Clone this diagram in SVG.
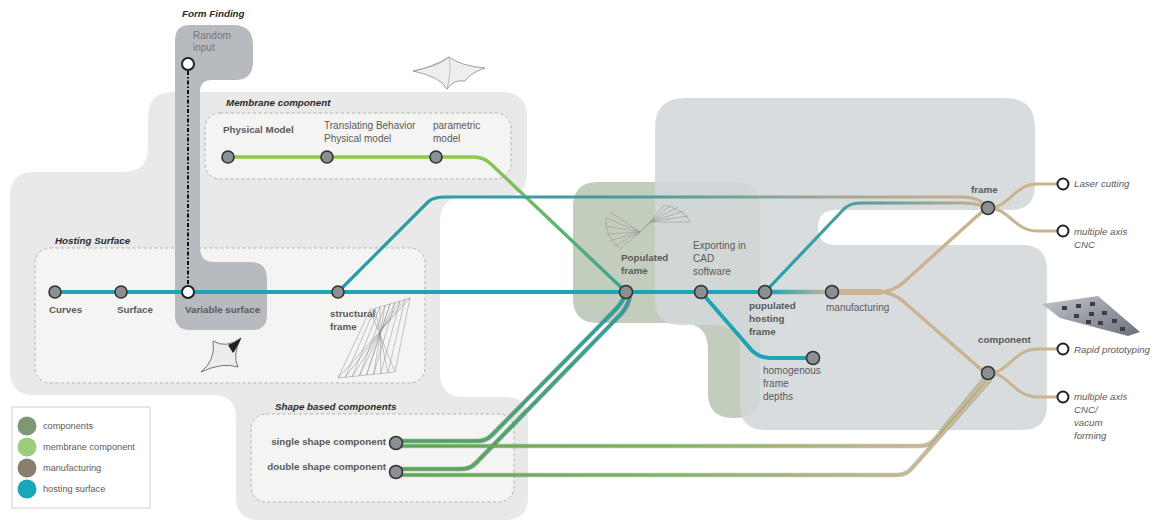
<svg xmlns="http://www.w3.org/2000/svg" width="1158" height="523" viewBox="0 0 1158 523">
<defs>
<style>
text{font-family:"Liberation Sans",Arial,sans-serif;fill:#5a5a5a;font-size:10px}
.b{font-weight:bold;font-size:9.8px}
.h{font-weight:bold;font-style:italic;fill:#2b2b2b;font-size:9.8px}
.i{font-style:italic;font-size:9.7px}
.lg{font-size:9.2px}
.st{fill:#8d9093;stroke:#333;stroke-width:1.6}
.wt{fill:#fff;stroke:#222;stroke-width:2}
.dash{fill:#f4f4f2;stroke:#b2b2b2;stroke-width:1;stroke-dasharray:3 2.5}
.ln{fill:none;stroke-linecap:round;stroke-linejoin:round}
.wire{fill:none;stroke:#8c8c8c;stroke-width:.5}
</style>
<linearGradient id="gMem" gradientUnits="userSpaceOnUse" x1="228" y1="0" x2="626" y2="0">
<stop offset="0" stop-color="#8fc84c"/><stop offset=".62" stop-color="#8fc84c"/><stop offset="1" stop-color="#38a293"/>
</linearGradient>
<linearGradient id="gTop" gradientUnits="userSpaceOnUse" x1="338" y1="0" x2="988" y2="0">
<stop offset="0" stop-color="#1e9fae"/><stop offset=".45" stop-color="#4c9999"/><stop offset=".78" stop-color="#a6a895"/><stop offset="1" stop-color="#c9b18e"/>
</linearGradient>
<linearGradient id="gPH" gradientUnits="userSpaceOnUse" x1="765" y1="0" x2="988" y2="0">
<stop offset="0" stop-color="#1e9fae"/><stop offset=".5" stop-color="#5e9e9a"/><stop offset="1" stop-color="#c9b18e"/>
</linearGradient>
<linearGradient id="gMan" gradientUnits="userSpaceOnUse" x1="770" y1="0" x2="830" y2="0">
<stop offset="0" stop-color="#1ea4b4"/><stop offset="1" stop-color="#c9b390"/>
</linearGradient>
<linearGradient id="gUp" gradientUnits="userSpaceOnUse" x1="0" y1="470" x2="0" y2="292">
<stop offset="0" stop-color="#5aa653"/><stop offset="1" stop-color="#1e9fae"/>
</linearGradient>
<linearGradient id="gRight" gradientUnits="userSpaceOnUse" x1="396" y1="0" x2="988" y2="0">
<stop offset="0" stop-color="#5aa653"/><stop offset=".45" stop-color="#80b460"/><stop offset=".85" stop-color="#c9b390"/><stop offset="1" stop-color="#d0bb98"/>
</linearGradient>
<linearGradient id="gPhoto" x1="0" y1="0" x2="1" y2="1">
<stop offset="0" stop-color="#c4c7cc"/><stop offset=".6" stop-color="#8d9199"/><stop offset="1" stop-color="#6d7179"/>
</linearGradient>
</defs>

<rect width="1158" height="523" fill="#fff"/>

<!-- background zones -->
<g id="zones">
<path d="M173,92 H502 Q527,92 527,117 V172 Q527,197 502,197 H465 Q440,197 440,222 V373 Q440,397 464,397 H505 Q528,397 528,420 V498 Q528,520 505,520 H259 Q236,520 236,497 V418 Q236,395 213,395 H34 Q10,395 10,371 V196 Q10,172 34,172 H123 Q148,172 148,147 V117 Q148,92 173,92 Z" fill="#e8e9e8"/>
<path d="M598,182 H735 Q760,182 760,207 V393 Q760,418 735,418 H733 Q708,418 708,393 V350 Q708,323 681,323 H598 Q573,323 573,298 V207 Q573,182 598,182 Z" fill="#c3cdbd"/>
<path d="M685,98 H1005 Q1035,98 1035,128 V185 Q1035,210 1010,210 H836 Q818,210 818,227.5 Q818,245 836,245 H1022 Q1047,245 1047,270 V405 Q1047,430 1022,430 H765 Q740,430 740,405 V352 Q740,325 713,325 H680 Q655,325 655,300 V128 Q655,98 685,98 Z" fill="#d3d7da" fill-opacity=".88"/>
<rect class="dash" x="205" y="113" width="306" height="66" rx="15"/>
<rect class="dash" x="35" y="248" width="390" height="135" rx="15"/>
<rect class="dash" x="251" y="414" width="263" height="88" rx="15"/>
<path d="M200,25 H233 Q253,25 253,45 V62 Q253,80 235,80 H212 Q200,80 200,92 V248 Q200,262 214,262 H250 Q267,262 267,279 V315 Q267,330 252,330 H190 Q175,330 175,315 V40 Q175,25 190,25 Z" fill="#b7babf"/>
<text class="h" x="182" y="17">Form Finding</text>
<text x="193" y="39" style="fill:#777">Random</text>
<text x="193" y="51" style="fill:#777">input</text>
<text class="h" x="226" y="106">Membrane component</text>
<text class="h" x="55" y="244">Hosting Surface</text>
<text class="h" x="275" y="410">Shape based components</text>
</g>

<!-- small sketches -->
<g id="sketches">
<path d="M413,71 Q433,67 449,57 Q461,66 485,68 Q470,73 465,81 Q454,79 447,89 Q441,77 413,71 Z" fill="#eeeeee" stroke="#7a7a7a" stroke-width=".7"/>
<path d="M449,57 Q452,70 447,89 M449,57 Q440,66 413,71" fill="none" stroke="#9a9a9a" stroke-width=".6"/>
<path d="M201,372 Q216,360 213,341 Q226,349 241,338 Q232,355 238,367 Q222,362 201,372 Z" fill="#ececec" stroke="#555" stroke-width=".8"/>
<path d="M228,345 Q236,342 241,338 Q236,350 233,353 Z" fill="#222"/>
<path class="wire" d="M370,310 L338,378 M375,308.5 L345.1,377.3 M380,307 L352.3,376.5 M385,305.5 L359.4,375.8 M390,304 L366.5,375 M395,302.5 L373.6,374.3 M400,301 L380.8,373.5 M405,299.5 L387.9,372.8 M410,298 L395,372 M370,310 L395,372 M375,308.5 L387.9,372.8 M380,307 L380.8,373.5 M385,305.5 L373.6,374.3 M390,304 L366.5,375 M395,302.5 L359.4,375.8 M400,301 L352.3,376.5 M405,299.5 L345.1,377.3 M410,298 L338,378 M370,310 L410,298 M338,378 L395,372"/>
<path class="wire" d="M640,232 L606,218 M640,232 L605,226 M640,232 L606,234 M640,232 L609,241 M640,232 L614,246 M640,232 L620,249 M640,232 L610,212 M606,218 Q604,235 620,249 M650,222 L690,222 M650,222 L688,216 M650,222 L684,211 M650,222 L678,207 M650,222 L671,205 M650,222 L664,205 M664,205 Q685,210 690,222 M640,232 L650,222 M636,236 L655,218"/>
<path d="M1042,304 L1098,296 L1140,332 L1128,336 L1060,318 Z" fill="url(#gPhoto)"/>
<path d="M1062,306 h5v4h-5z M1076,304 h5v4h-5z M1090,302 h5v4h-5z M1074,314 h5v4h-5z M1089,312 h5v4h-5z M1102,311 h5v4h-5z M1098,321 h5v4h-5z M1112,319 h5v4h-5z M1120,327 h5v4h-5z M1086,320 h5v4h-5z" fill="#3b3e44"/>
</g>

<!-- connectors -->
<g id="connectors">
<path class="ln" d="M396,441 H478 Q486,441 492,435 L617,308 Q624,300 626,292" stroke="#1f5c55" stroke-width="4.6" stroke-opacity=".5"/>
<path class="ln" d="M396,441 H478 Q486,441 492,435 L617,308 Q624,300 626,292" stroke="url(#gUp)" stroke-width="2.8"/>
<path class="ln" d="M396,469 H462 Q470,469 476,463 L622,313 Q630,303 630,293" stroke="#1f5c55" stroke-width="4.6" stroke-opacity=".5"/>
<path class="ln" d="M396,469 H462 Q470,469 476,463 L622,313 Q630,303 630,293" stroke="url(#gUp)" stroke-width="2.8"/>
<path class="ln" d="M396,446 H920 Q930,446 936,438 L985,378 Q987,375 988,373" stroke="#3f6a3a" stroke-width="4.6" stroke-opacity=".35"/>
<path class="ln" d="M396,446 H920 Q930,446 936,438 L985,378 Q987,375 988,373" stroke="url(#gRight)" stroke-width="2.8"/>
<path class="ln" d="M396,475 H897 Q907,475 913,467 L989,381 Q991,377 991,375" stroke="#3f6a3a" stroke-width="4.6" stroke-opacity=".35"/>
<path class="ln" d="M396,475 H897 Q907,475 913,467 L989,381 Q991,377 991,375" stroke="url(#gRight)" stroke-width="2.8"/>
<path class="ln" d="M228,157 H474 Q484,157 491,164 L626,292" stroke="url(#gMem)" stroke-width="3.4"/>
<path class="ln" d="M338,292 L428,202 Q433,197 445,197 H962 Q980,197 988,208" stroke="url(#gTop)" stroke-width="3.2"/>
<path class="ln" d="M765,292 L843,210 Q849,203 860,203 H962 Q978,203 988,208" stroke="url(#gPH)" stroke-width="3.2"/>
<path class="ln" d="M55,292 H770" stroke="#1ea4b4" stroke-width="4"/>
<path class="ln" d="M701,292 L748,346 Q757,358 770,358 H812" stroke="#1ea4b4" stroke-width="4"/>
<path class="ln" d="M768,292 H832" stroke="url(#gMan)" stroke-width="4.5"/>
<path class="ln" d="M832,292 H878 Q893,292 904,282 L976,217 Q982,211 988,208" stroke="#c9b390" stroke-width="3.4"/>
<path class="ln" d="M832,292 H878 Q893,292 904,302 L976,365 Q982,371 988,373" stroke="#c9b390" stroke-width="3.4"/>
<path class="ln" d="M832,292 H880" stroke="#c9b390" stroke-width="6"/>
<path class="ln" d="M988,208 C1010,208 1013,184 1038,184 H1058" stroke="#c9b390" stroke-width="3"/>
<path class="ln" d="M988,208 C1010,208 1013,231 1038,231 H1058" stroke="#c9b390" stroke-width="3"/>
<path class="ln" d="M988,373 C1010,373 1013,349 1038,349 H1058" stroke="#c9b390" stroke-width="3"/>
<path class="ln" d="M988,373 C1010,373 1013,397 1038,397 H1058" stroke="#c9b390" stroke-width="3"/>
<path d="M188,71 V286" fill="none" stroke="#111" stroke-width="2" stroke-dasharray="4 2 1.5 2"/>
</g>

<!-- nodes -->
<g id="random-input"><circle class="wt" cx="188" cy="64" r="6"/></g>
<g id="physical-model"><circle class="st" cx="228" cy="157" r="6"/><text class="b" x="223" y="133">Physical Model</text></g>
<g id="translating-behavior"><circle class="st" cx="327" cy="157" r="6"/><text x="324" y="129">Translating Behavior</text><text x="324" y="142">Physical model</text></g>
<g id="parametric-model"><circle class="st" cx="436" cy="157" r="6"/><text x="433" y="129">parametric</text><text x="433" y="142">model</text></g>
<g id="curves"><circle class="st" cx="55" cy="292" r="6"/><text class="b" x="49" y="313">Curves</text></g>
<g id="surface"><circle class="st" cx="121" cy="292" r="6"/><text class="b" x="117" y="313">Surface</text></g>
<g id="variable-surface"><circle class="wt" cx="188" cy="292" r="6"/><text class="b" x="185" y="313">Variable surface</text></g>
<g id="structural-frame"><circle class="st" cx="338" cy="292" r="6"/><text class="b" x="330" y="317">structural</text><text class="b" x="330" y="330">frame</text></g>
<g id="populated-frame"><circle class="st" cx="626" cy="292" r="6.5"/><text class="b" x="621" y="261">Populated</text><text class="b" x="621" y="274">frame</text></g>
<g id="exporting-cad"><circle class="st" cx="701" cy="292" r="6.5"/><text x="693" y="249">Exporting in</text><text x="693" y="262">CAD</text><text x="693" y="275">software</text></g>
<g id="pupulated-hosting-frame"><circle class="st" cx="765" cy="292" r="6.5"/><text class="b" x="749" y="309">pupulated</text><text class="b" x="749" y="322">hosting</text><text class="b" x="749" y="335">frame</text></g>
<g id="manufacturing"><circle class="st" cx="832" cy="292" r="6.5"/><text x="826" y="311">manufacturing</text></g>
<g id="homogenous-depths"><circle class="st" cx="813" cy="358" r="6.5"/><text x="763" y="374">homogenous</text><text x="763" y="387">frame</text><text x="763" y="400">depths</text></g>
<g id="frame"><circle class="st" cx="988" cy="208" r="6.5"/><text class="b" x="971" y="193">frame</text></g>
<g id="component"><circle class="st" cx="988" cy="373" r="6.5"/><text class="b" x="978" y="343">component</text></g>
<g id="laser-cutting"><circle class="wt" cx="1063" cy="184" r="5.5"/><text class="i" x="1074" y="187">Laser cutting</text></g>
<g id="cnc-frame"><circle class="wt" cx="1063" cy="231" r="5.5"/><text class="i" x="1074" y="235">multiple axis</text><text class="i" x="1074" y="248">CNC</text></g>
<g id="rapid-prototyping"><circle class="wt" cx="1063" cy="349" r="5.5"/><text class="i" x="1074" y="353">Rapid prototyping</text></g>
<g id="cnc-vacuum"><circle class="wt" cx="1063" cy="397" r="5.5"/><text class="i" x="1074" y="400">multiple axis</text><text class="i" x="1074" y="413">CNC/</text><text class="i" x="1074" y="426">vacum</text><text class="i" x="1074" y="439">forming</text></g>
<g id="single-shape"><circle class="st" cx="396" cy="443" r="6.5"/><text class="b" x="386" y="445" text-anchor="end">single shape component</text></g>
<g id="double-shape"><circle class="st" cx="396" cy="472" r="6.5"/><text class="b" x="386" y="470" text-anchor="end">double shape component</text></g>

<!-- legend -->
<g id="legend">
<rect x="12" y="407" width="138" height="101" fill="#fff" stroke="#cfcfcf" stroke-width="1"/>
<circle cx="27" cy="426" r="9.5" fill="#7f9772"/><text class="lg" x="43" y="429">components</text>
<circle cx="27" cy="447" r="9.5" fill="#9ccd7c"/><text class="lg" x="43" y="450">membrane component</text>
<circle cx="27" cy="468" r="9.5" fill="#8a7e70"/><text class="lg" x="43" y="471">manufacturing</text>
<circle cx="27" cy="489" r="9.5" fill="#1aa7b8"/><text class="lg" x="43" y="492">hosting surface</text>
</g>
</svg>
